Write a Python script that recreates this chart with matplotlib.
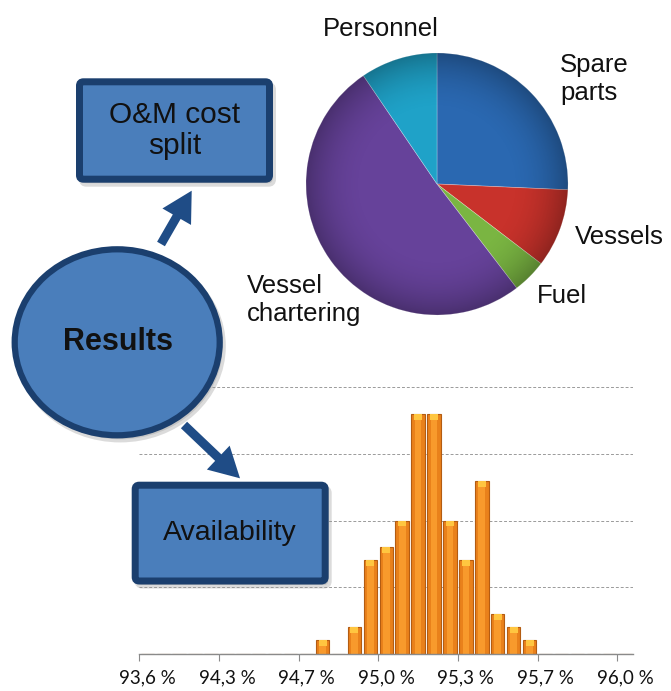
import numpy as np
import matplotlib
matplotlib.use('Agg')
import matplotlib.pyplot as plt
from matplotlib.patches import FancyBboxPatch, Ellipse, FancyArrow, Circle

# pie: O&M cost split (%), clockwise from 12 o'clock
pie_labels = ['Spare parts', 'Vessels', 'Fuel', 'Vessel chartering', 'Personnel']
pie_values = [25.7, 9.7, 4.2, 50.9, 9.5]
pie_colors = ['#2A68B1', '#C8322B', '#7AB542', '#66429A', '#1FA2C8']

# histogram: availability categories (31 bins), counts per bin
counts = [0] * 11 + [1, 0, 2, 7, 8, 10, 18, 18, 10, 7, 13, 3, 2, 1] + [0] * 6
tick_labels = ['93,6 %', '94,3 %', '94,7 %', '95,0 %', '95,3 %', '95,7 %', '96,0 %']

W, H = 671, 691
BOX_FILL = '#4A7EBB'
BOX_EDGE = '#1B3F6E'
ARROW = '#1F4C86'
FONT = 'Liberation Sans'

fig = plt.figure(figsize=(W / 100, H / 100), dpi=100)
fig.patch.set_facecolor('white')


def fy(y):
    # pixel row (from top) -> canvas y
    return H - y


# ---- histogram ----
unit = 66.6 / 5
top_val = 20.3
hx0, hx1, hy0 = 139.3, 633.2, 653.7
hax = fig.add_axes([hx0 / W, fy(hy0) / H, (hx1 - hx0) / W, top_val * unit / H])
hax.set_zorder(0)
x = np.arange(len(counts)) + 0.5
vals = np.array(counts, dtype=float)
hax.bar(x, vals, width=0.84, color='#E9811B', edgecolor='#B35C12', linewidth=0.8, zorder=2)
hax.bar(x, vals, width=0.42, color='#F89A2C', linewidth=0, zorder=2.5)
cap = np.where(vals > 0, 0.45, 0)
hax.bar(x, cap, bottom=vals - cap, width=0.5, color='#FFC640', linewidth=0, zorder=3)
hax.set_xlim(0, len(counts))
hax.set_ylim(0, top_val)
hax.set_yticks([5, 10, 15, 20])
hax.yaxis.grid(True, linestyle=(0, (3, 2)), color='#9A9A9A', linewidth=0.7)
hax.set_axisbelow(True)
hax.tick_params(axis='y', length=0, labelleft=False)
for s in ['top', 'right', 'left']:
    hax.spines[s].set_visible(False)
hax.spines['bottom'].set_color('#8A8A8A')
hax.spines['bottom'].set_linewidth(1.0)
hax.set_xticks(np.arange(0, len(counts), 5))
hax.set_xticks(np.arange(0, len(counts), 5) + 0.5, minor=True)
hax.set_xticklabels([])
hax.set_xticklabels(tick_labels, minor=True, family='Lato', fontsize=13.5, color='#111111')
hax.tick_params(axis='x', which='major', length=5, color='#8A8A8A', direction='out')
hax.tick_params(axis='x', which='minor', length=0, pad=11)
hax.patch.set_alpha(0)

# ---- canvas for diagram and pie ----
ax = fig.add_axes([0, 0, 1, 1])
ax.set_zorder(1)
ax.patch.set_alpha(0)

cx, cy, r = 437, fy(184), 131
wedges, _ = ax.pie(pie_values, colors=pie_colors, startangle=90, counterclock=False,
                   center=(cx, cy), radius=r,
                   wedgeprops=dict(edgecolor=(1, 1, 1, 0.35), linewidth=0.5))
# soft shading towards the rim
yy, xx = np.mgrid[-1:1:300j, -1:1:300j]
rr = np.sqrt(xx ** 2 + yy ** 2)
shade = np.zeros((300, 300, 4))
shade[..., 3] = np.clip((rr - 0.55) / 0.45, 0, 1) ** 2 * 0.28
img = ax.imshow(shade, extent=[cx - r, cx + r, cy - r, cy + r], zorder=3, interpolation='bilinear')
img.set_clip_path(Circle((cx, cy), r, transform=ax.transData))

lab_kw = dict(family=FONT, fontsize=18.5, color='#111111', linespacing=1.2)
ax.text(381, fy(29), 'Personnel', ha='center', va='center', **lab_kw)
ax.text(560, fy(79), 'Spare\nparts', ha='left', va='center', **lab_kw)
ax.text(575, fy(237), 'Vessels', ha='left', va='center', **lab_kw)
ax.text(537, fy(296), 'Fuel', ha='left', va='center', **lab_kw)
ax.text(247, fy(300), 'Vessel\nchartering', ha='left', va='center', **lab_kw)

# shapes with soft shadow
def box(x0, y0, w, h, text, fs):
    lw_px = 7
    sh = FancyBboxPatch((x0 + lw_px / 2 + 3, fy(y0 + h - lw_px / 2) - 4), w - lw_px, h - lw_px,
                        boxstyle='round,pad=0,rounding_size=4', facecolor='#9A9A9A',
                        edgecolor='#9A9A9A', linewidth=lw_px * 0.72, alpha=0.35, zorder=4)
    ax.add_patch(sh)
    p = FancyBboxPatch((x0 + lw_px / 2, fy(y0 + h - lw_px / 2)), w - lw_px, h - lw_px,
                       boxstyle='round,pad=0,rounding_size=4', facecolor=BOX_FILL,
                       edgecolor=BOX_EDGE, linewidth=lw_px * 0.72, zorder=5)
    ax.add_patch(p)
    ax.text(x0 + w / 2, fy(y0 + h / 2), text, ha='center', va='center', family=FONT,
            fontsize=fs, color='#111111', linespacing=1.12, zorder=6)


box(76, 78.3, 197, 104.4, 'O&M cost\nsplit', 21.5)
box(131.7, 481.7, 197, 102.8, 'Availability', 20.5)

ecx, ecy = 117.2, 342.3
ax.add_patch(Ellipse((ecx + 3, fy(ecy) - 4), 205, 186, facecolor='#9A9A9A', edgecolor='#9A9A9A',
                     linewidth=4.5, alpha=0.35, zorder=4))
ax.add_patch(Ellipse((ecx, fy(ecy)), 205, 186, facecolor=BOX_FILL, edgecolor=BOX_EDGE,
                     linewidth=4.5, zorder=5))
ax.text(ecx + 1, fy(341.5), 'Results', ha='center', va='center', family=FONT, fontsize=22,
        fontweight='bold', color='#111111', zorder=6)

for (x0, y0), (x1, y1) in [((161, 244), (191.7, 190.7)), ((184, 425), (240, 478.3))]:
    ax.add_patch(FancyArrow(x0, fy(y0), x1 - x0, fy(y1) - fy(y0), width=9, head_width=33,
                            head_length=30, length_includes_head=True, color=ARROW,
                            linewidth=0, zorder=4.5))

ax.set_xlim(0, W)
ax.set_ylim(0, H)
ax.set_aspect('auto')
ax.axis('off')

fig.savefig('out.png', dpi=100)
